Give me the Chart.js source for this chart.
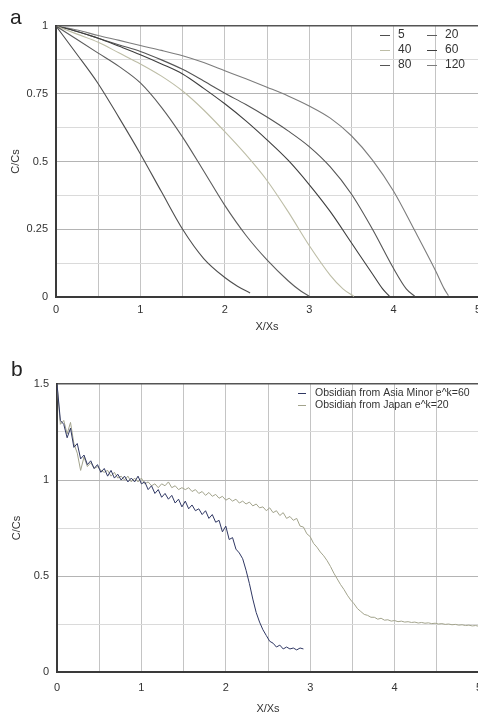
<!DOCTYPE html>
<html>
<head>
<meta charset="utf-8">
<script src="https://cdn.jsdelivr.net/npm/chart.js@4.4.0/dist/chart.umd.min.js"></script>
<style>
  html, body { margin: 0; padding: 0; background: #fff; overflow: hidden; width: 478px; height: 718px; }
  #wrapA { position: absolute; left: 0; top: 0; width: 500px; height: 340px; }
  #wrapB { position: absolute; left: 0; top: 340px; width: 500px; height: 378px; }
  .tag { position: absolute; z-index: 2; font-family: "Liberation Sans", Arial, sans-serif; font-size: 21px; color: #222; line-height: 1; }
</style>
</head>
<body>
<div id="wrapA"><canvas id="chartA" width="500" height="340"></canvas></div>
<div id="wrapB"><canvas id="chartB" width="500" height="378"></canvas></div>
<div class="tag" style="left:10px;top:6px">a</div>
<div class="tag" style="left:11px;top:358px">b</div>
<script>
// ---- panel a: model curves, one per e^k value ----
const curveLabels = ['5', '20', '40', '60', '80', '120'];
const curveColors = ['#4e4e4e', '#5c5c5c', '#bdbda6', '#3e3e3e', '#555555', '#7c7c7c'];

const x5 = [0, 0.25, 0.5, 0.75, 1, 1.25, 1.5, 1.75, 2, 2.15, 2.3];
const y5 = [1, 0.895, 0.787, 0.66, 0.528, 0.388, 0.25, 0.142, 0.072, 0.04, 0.015];

const x20 = [0, 0.25, 0.5, 0.75, 1, 1.25, 1.5, 1.75, 2, 2.25, 2.5, 2.75, 2.9, 3];
const y20 = [1, 0.95, 0.9, 0.85, 0.79, 0.7, 0.59, 0.465, 0.338, 0.228, 0.137, 0.06, 0.022, 0.003];

const x40 = [0, 0.25, 0.5, 0.75, 1, 1.25, 1.5, 1.75, 2, 2.25, 2.5, 2.75, 3, 3.25, 3.4, 3.53];
const y40 = [1, 0.97, 0.94, 0.9, 0.86, 0.815, 0.76, 0.69, 0.61, 0.525, 0.43, 0.315, 0.19, 0.08, 0.03, 0.002];

const x60 = [0, 0.25, 0.5, 0.75, 1, 1.25, 1.5, 1.75, 2, 2.25, 2.5, 2.75, 3, 3.25, 3.5, 3.75, 3.87, 3.95];
const y60 = [1, 0.98, 0.955, 0.925, 0.894, 0.86, 0.823, 0.77, 0.713, 0.65, 0.58, 0.505, 0.415, 0.315, 0.2, 0.085, 0.03, 0.003];

const x80 = [0, 0.25, 0.5, 0.75, 1, 1.25, 1.5, 1.75, 2, 2.25, 2.5, 2.75, 3, 3.25, 3.5, 3.75, 4, 4.15, 4.25];
const y80 = [1, 0.98, 0.955, 0.93, 0.906, 0.875, 0.84, 0.797, 0.752, 0.71, 0.664, 0.613, 0.555, 0.48, 0.38, 0.25, 0.105, 0.03, 0.003];

const x120 = [0, 0.25, 0.5, 0.75, 1, 1.25, 1.5, 1.75, 2, 2.25, 2.5, 2.75, 3, 3.25, 3.5, 3.75, 4, 4.25, 4.5, 4.6, 4.65];
const y120 = [1, 0.985, 0.965, 0.947, 0.928, 0.91, 0.89, 0.865, 0.835, 0.805, 0.774, 0.742, 0.705, 0.66, 0.595, 0.505, 0.39, 0.245, 0.095, 0.03, 0.005];

const curveXs = [x5, x20, x40, x60, x80, x120];
const curveYs = [y5, y20, y40, y60, y80, y120];

// ---- panel b: measured profiles, sampled every 0.04 X/Xs ----
const stepB = 0.04;
const asiaMinor = [
  1.50, 1.31, 1.29, 1.22, 1.27, 1.17, 1.19, 1.11, 1.13, 1.08,
  1.10, 1.06, 1.08, 1.04, 1.06, 1.02, 1.05, 1.01, 1.03, 1.00,
  1.02, 0.99, 1.01, 0.99, 1.02, 0.98, 0.99, 0.95, 0.97, 0.93,
  0.95, 0.91, 0.93, 0.90, 0.92, 0.88, 0.90, 0.86, 0.89, 0.85,
  0.87, 0.84, 0.85, 0.82, 0.84, 0.80, 0.82, 0.78, 0.79, 0.73,
  0.76, 0.69, 0.70, 0.64, 0.62, 0.59, 0.53, 0.46, 0.38, 0.31,
  0.26, 0.22, 0.19, 0.16, 0.15, 0.13, 0.14, 0.12, 0.13, 0.12,
  0.125, 0.115, 0.125, 0.12
];
const japan = [
  1.50, 1.29, 1.31, 1.24, 1.30, 1.19, 1.14, 1.05, 1.12, 1.07,
  1.09, 1.06, 1.07, 1.05, 1.04, 1.05, 1.02, 1.04, 1.01, 1.02,
  1.00, 1.02, 0.99, 1.01, 0.99, 1.01, 0.98, 0.99, 0.97, 0.98,
  0.96, 0.98, 0.97, 0.99, 0.96, 0.97, 0.95, 0.96, 0.95, 0.96,
  0.94, 0.95, 0.93, 0.94, 0.92, 0.935, 0.915, 0.925, 0.905, 0.915,
  0.895, 0.905, 0.89, 0.90, 0.88, 0.89, 0.875, 0.885, 0.865, 0.875,
  0.855, 0.86, 0.84, 0.855, 0.83, 0.84, 0.815, 0.83, 0.80, 0.81,
  0.79, 0.80, 0.76, 0.755, 0.72, 0.705, 0.67, 0.65, 0.625, 0.605,
  0.58, 0.55, 0.515, 0.485, 0.455, 0.43, 0.40, 0.375, 0.355, 0.33,
  0.315, 0.30, 0.295, 0.285, 0.285, 0.275, 0.28, 0.27, 0.272, 0.265,
  0.268, 0.262, 0.265, 0.26, 0.262, 0.258, 0.26, 0.255, 0.258, 0.254,
  0.256, 0.252, 0.254, 0.25, 0.252, 0.248, 0.25, 0.246, 0.248, 0.244,
  0.246, 0.242, 0.244, 0.24, 0.242, 0.238
];
const profileLabels = ['Obsidian from Asia Minor e^k=60', 'Obsidian from Japan e^k=20'];
const profileColors = ['#2f3763', '#a2a38c'];

const FONT = '"Liberation Sans", Arial, Helvetica, sans-serif';

// legend drawn inside the plot, laid out as a small grid
const insideLegend = {
  id: 'insideLegend',
  afterDatasetsDraw(chart, args, o) {
    const ctx = chart.ctx;
    ctx.save();
    ctx.font = o.fontSize + 'px ' + FONT;
    ctx.textBaseline = 'middle';
    ctx.textAlign = 'left';
    chart.data.datasets.forEach((ds, i) => {
      const col = i % o.cols, row = Math.floor(i / o.cols);
      const x = o.x + col * o.colWidth, y = o.y + row * o.rowHeight;
      ctx.strokeStyle = ds.borderColor;
      ctx.lineWidth = 1;
      ctx.beginPath();
      ctx.moveTo(x, y + 0.5);
      ctx.lineTo(x + o.lineLength, y + 0.5);
      ctx.stroke();
      ctx.fillStyle = '#333';
      ctx.fillText(ds.label, x + o.lineLength + o.gap, y);
    });
    ctx.restore();
  }
};

function isMultiple(v, step) {
  return Math.abs(v / step - Math.round(v / step)) < 1e-6;
}

function axes(yMax, yStep, yLabelStep, yWidth, xHeight, xTickPad, xTitlePad, yTitlePad) {
  return {
    x: {
      type: 'linear', min: 0, max: 5,
      afterFit: (s) => { s.height = xHeight; },
      border: { color: '#3a3a3a', width: 2 },
      grid: {
        drawTicks: false,
        color: '#c4c4c4',
        lineWidth: 1
      },
      ticks: {
        stepSize: 0.5, autoSkip: false, maxRotation: 0, padding: xTickPad,
        color: '#333', font: { family: FONT, size: 11 },
        callback: (v) => isMultiple(v, 1) ? String(v) : ''
      },
      title: { display: true, text: 'X/Xs', color: '#333', font: { family: FONT, size: 11 }, padding: { top: 0, bottom: xTitlePad } }
    },
    y: {
      type: 'linear', min: 0, max: yMax,
      afterFit: (s) => { s.width = yWidth; },
      border: { color: '#3a3a3a', width: 2 },
      grid: {
        drawTicks: false,
        color: (c) => isMultiple(c.tick.value, yMax) && c.tick.value > 0 ? '#555' :
          (isMultiple(c.tick.value, yLabelStep) ? '#b4b4b4' : '#dadada'),
        lineWidth: (c) => isMultiple(c.tick.value, yMax) && c.tick.value > 0 ? 1.5 : 1
      },
      ticks: {
        stepSize: yStep, autoSkip: false, padding: 8,
        color: '#333', font: { family: FONT, size: 11 },
        callback: (v) => isMultiple(v, yLabelStep) ? String(v) : ''
      },
      title: { display: true, text: 'C/Cs', color: '#333', font: { family: FONT, size: 11 }, padding: { top: yTitlePad, bottom: 0 } }
    }
  };
}

new Chart(document.getElementById('chartA'), {
  type: 'line',
  data: {
    datasets: curveLabels.map((lab, i) => ({
      label: lab,
      data: curveXs[i].map((x, j) => ({ x: x, y: curveYs[i][j] })),
      borderColor: curveColors[i],
      borderWidth: 1.1,
      pointRadius: 0,
      cubicInterpolationMode: 'monotone',
      fill: false
    }))
  },
  options: {
    responsive: false,
    animation: false,
    devicePixelRatio: 1,
    layout: { padding: { left: 0, top: 26, right: 22, bottom: 0 } },
    scales: axes(1, 0.125, 0.25, 56, 43, 6, 6, 9),
    plugins: {
      legend: { display: false },
      tooltip: { enabled: false },
      insideLegend: { x: 380, y: 35, cols: 2, colWidth: 47, rowHeight: 15, lineLength: 10, gap: 8, fontSize: 12 }
    }
  },
  plugins: [insideLegend]
});

new Chart(document.getElementById('chartB'), {
  type: 'line',
  data: {
    datasets: [asiaMinor, japan].map((vals, i) => ({
      label: profileLabels[i],
      data: vals.map((v, j) => ({ x: +(j * stepB).toFixed(2), y: v })),
      borderColor: profileColors[i],
      borderWidth: 1,
      pointRadius: 0,
      tension: 0,
      fill: false
    }))
  },
  options: {
    responsive: false,
    animation: false,
    devicePixelRatio: 1,
    layout: { padding: { left: 0, top: 44, right: 21, bottom: 0 } },
    scales: axes(1.5, 0.25, 0.5, 57, 46, 9, 2, 10),
    plugins: {
      legend: { display: false },
      tooltip: { enabled: false },
      insideLegend: { x: 298, y: 53, cols: 1, colWidth: 0, rowHeight: 12, lineLength: 8, gap: 9, fontSize: 10.5 }
    }
  },
  plugins: [insideLegend]
});
</script>
</body>
</html>
